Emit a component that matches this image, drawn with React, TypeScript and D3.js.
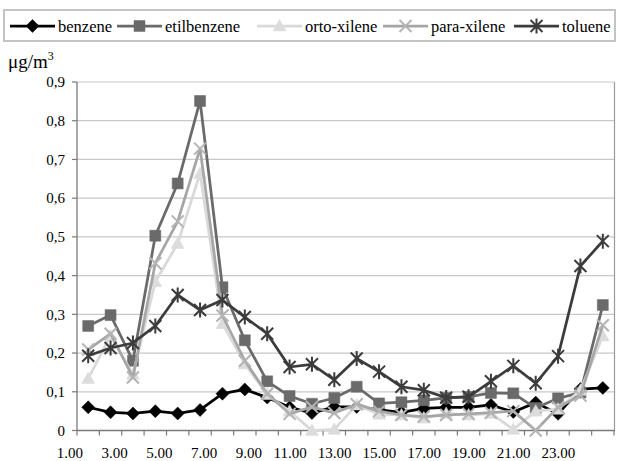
import React, { useEffect } from "react";
import * as d3 from "d3";

const categories = ["1.00","2.00","3.00","4.00","5.00","6.00","7.00","8.00","9.00","10.00","11.00","12.00","13.00","14.00","15.00","16.00","17.00","18.00","19.00","20.00","21.00","22.00","23.00","24.00"];
const xTickLabels = ["1.00","3.00","5.00","7.00","9.00","11.00","13.00","15.00","17.00","19.00","21.00","23.00"];
const yTickValues = [0, 0.1, 0.2, 0.3, 0.4, 0.5, 0.6, 0.7, 0.8, 0.9];

const benzene = [0.060, 0.047, 0.044, 0.050, 0.044, 0.053, 0.095, 0.106, 0.085, 0.060, 0.045, 0.061, 0.061, 0.053, 0.047, 0.057, 0.060, 0.060, 0.066, 0.048, 0.072, 0.043, 0.107, 0.110];
const etilbenzene = [0.270, 0.298, 0.180, 0.503, 0.638, 0.851, 0.370, 0.233, 0.127, 0.089, 0.069, 0.084, 0.113, 0.070, 0.073, 0.078, 0.084, 0.087, 0.097, 0.096, 0.058, 0.083, 0.098, 0.324];
const ortoXilene = [0.134, 0.245, 0.145, 0.384, 0.483, 0.664, 0.276, 0.172, 0.093, 0.050, 0.000, 0.003, 0.066, 0.042, 0.040, 0.032, 0.044, 0.040, 0.044, 0.003, 0.050, 0.055, 0.104, 0.244];
const paraXilene = [0.209, 0.250, 0.137, 0.432, 0.540, 0.728, 0.297, 0.180, 0.095, 0.043, 0.061, 0.045, 0.068, 0.050, 0.040, 0.036, 0.040, 0.043, 0.046, 0.050, 0.000, 0.060, 0.090, 0.272];
const toluene = [0.193, 0.213, 0.226, 0.270, 0.350, 0.311, 0.337, 0.293, 0.250, 0.164, 0.171, 0.131, 0.186, 0.152, 0.113, 0.104, 0.085, 0.087, 0.127, 0.167, 0.122, 0.192, 0.425, 0.489];

const seriesNames = ["benzene", "etilbenzene", "orto-xilene", "para-xilene", "toluene"];
const seriesValues = [benzene, etilbenzene, ortoXilene, paraXilene, toluene];

type Marker = "diamond" | "square" | "triangle" | "x" | "star";
const styles: { line: string; fill: string; marker: Marker }[] = [
  { line: "#000000", fill: "#000000", marker: "diamond" },
  { line: "#6a6a6a", fill: "#6a6a6a", marker: "square" },
  { line: "#d9d9d9", fill: "#dcdcdc", marker: "triangle" },
  { line: "#a6a6a6", fill: "#b4b4b4", marker: "x" },
  { line: "#3c3c3c", fill: "#3c3c3c", marker: "star" },
];

const W = 617, H = 461;
const M = { left: 77, right: 614, top: 82, bottom: 430.5 };
const FONT = '"Liberation Serif"';
const txt = { fontFamily: FONT } as React.CSSProperties;

function markerPath(m: Marker): string {
  switch (m) {
    case "diamond": return "M0,-6.5L6.5,0L0,6.5L-6.5,0Z";
    case "square": return "M-5.5,-5.5H5.5V5.5H-5.5Z";
    case "triangle": return "M0,-6.5L6.5,5L-6.5,5Z";
    case "x": return "M-6,-6L6,6M-6,6L6,-6";
    case "star": return "M-6,-6L6,6M-6,6L6,-6M0,-7.5V7.5";
  }
}

function MarkerShape({ m, x, y, color }: { m: Marker; x: number; y: number; color: string }) {
  const stroked = m === "x" || m === "star";
  return (
    <path
      d={markerPath(m)}
      transform={`translate(${x},${y})`}
      fill={stroked ? "none" : color}
      stroke={color}
      strokeWidth={stroked ? 2 : 0.5}
    />
  );
}

const legendLayout = [10, 117, 257, 383, 514];

export default function App() {
  useEffect(() => {
    document.body.style.margin = "0";
  }, []);

  const x = d3.scaleBand<number>().domain(d3.range(categories.length)).range([M.left, M.right]).padding(0);
  const cx = (i: number) => (x(i) as number) + x.bandwidth() / 2;
  const y = d3.scaleLinear().domain([0, 0.9]).range([M.bottom, M.top]);
  const line = d3.line<number>().x((_, i) => cx(i)).y((v) => y(v));

  const tickEdges = d3.range(categories.length + 1).map((i) => M.left + i * x.step());

  return (
    <svg width={W} height={H} style={{ position: "absolute", left: 0, top: 0, background: "#fff", fontFamily: FONT }}>
      <rect x={0} y={0} width={W} height={H} fill="#fff" />
      {/* legend */}
      <rect x={4} y={10} width={611} height={31} fill="#fff" stroke="#c4c4c4" strokeWidth={2} />
      {seriesNames.map((name, k) => {
        const x0 = legendLayout[k];
        const st = styles[k];
        return (
          <g key={name}>
            <line x1={x0} x2={x0 + 45} y1={26} y2={26} stroke={st.line} strokeWidth={2.75} />
            <MarkerShape m={st.marker} x={x0 + 22.5} y={26} color={st.fill} />
            <text x={x0 + 48} y={26} dy="0.35em" fontSize={16.5} fill="#000" style={txt}>{name}</text>
          </g>
        );
      })}

      {/* unit label */}
      <text x={8} y={68} fontSize={19} fill="#000" style={txt}>
        μg/m<tspan fontSize={12} dy={-8}>3</tspan>
      </text>

      {/* gridlines */}
      {yTickValues.filter((v) => v > 0).map((v) => (
        <line key={v} x1={M.left} x2={M.right} y1={y(v)} y2={y(v)} stroke="#c8c8c8" strokeWidth={1.2} />
      ))}
      {/* plot right border */}
      <line x1={M.right + 0.5} x2={M.right + 0.5} y1={M.top} y2={M.bottom} stroke="#9a9a9a" strokeWidth={1.2} />

      {/* y axis */}
      <line x1={M.left} x2={M.left} y1={M.top} y2={M.bottom} stroke="#7a7a7a" strokeWidth={1.3} />
      {yTickValues.map((v) => (
        <g key={"yt" + v}>
          <line x1={M.left - 5} x2={M.left} y1={y(v)} y2={y(v)} stroke="#7a7a7a" strokeWidth={1.2} />
          <text x={65} y={y(v)} dy="0.35em" textAnchor="end" fontSize={15} fill="#000" style={txt}>
            {v === 0 ? "0" : d3.format(".1f")(v).replace(".", ",")}
          </text>
        </g>
      ))}

      {/* x axis */}
      <line x1={M.left} x2={M.right + 1} y1={M.bottom} y2={M.bottom} stroke="#7a7a7a" strokeWidth={1.3} />
      {tickEdges.map((tx, i) => (
        <line key={"xt" + i} x1={tx} x2={tx} y1={M.bottom} y2={M.bottom + 5} stroke="#7a7a7a" strokeWidth={1.2} />
      ))}
      {xTickLabels.map((lab, j) => (
        <text key={lab} x={(x(j * 2) as number) + 6} y={458} textAnchor="end" fontSize={15} fill="#000" style={txt}>{lab}</text>
      ))}

      {/* series */}
      {seriesValues.map((vals, k) => {
        const st = styles[k];
        return (
          <g key={seriesNames[k]}>
            <path d={line(vals) || ""} fill="none" stroke={st.line} strokeWidth={2.75} strokeLinejoin="round" />
            {vals.map((v, i) => (
              <MarkerShape key={i} m={st.marker} x={cx(i)} y={y(v)} color={st.fill} />
            ))}
          </g>
        );
      })}
    </svg>
  );
}
